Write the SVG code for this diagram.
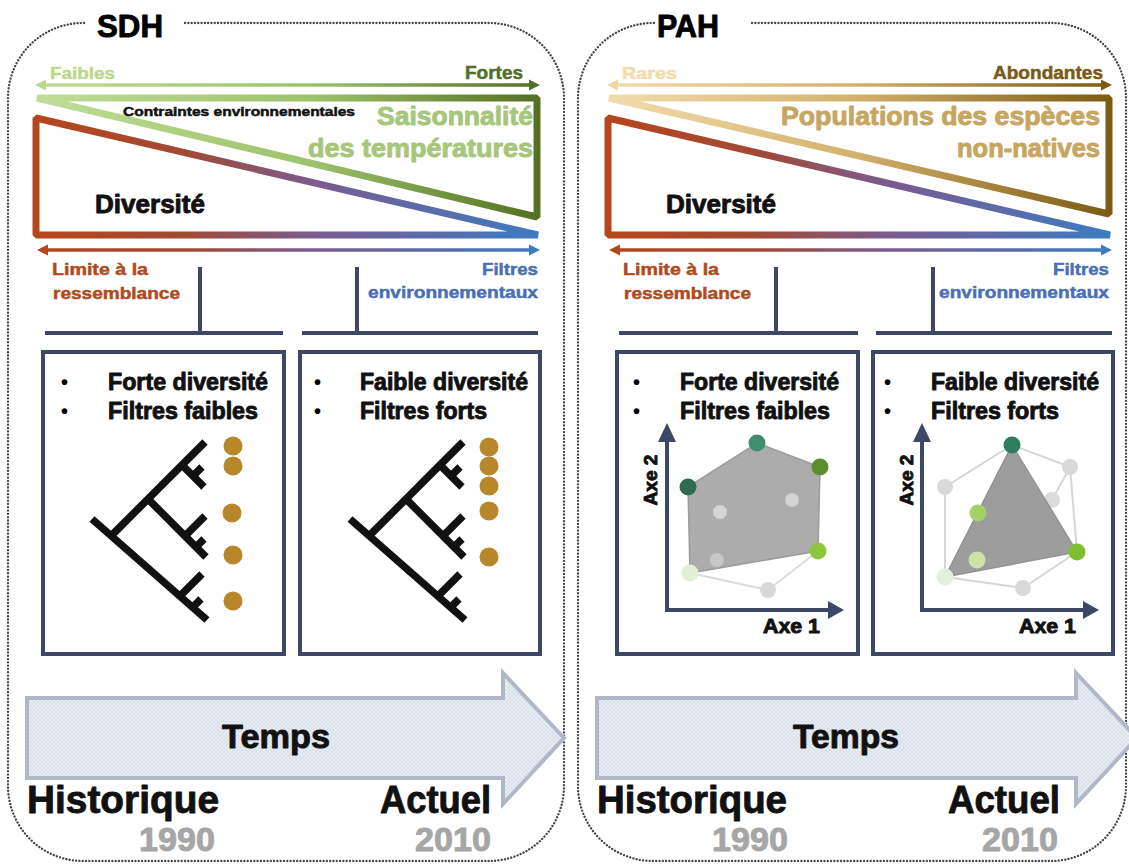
<svg xmlns="http://www.w3.org/2000/svg" width="1129" height="866" viewBox="0 0 1129 866">
<style>
.t{font-family:"Liberation Sans",Arial,sans-serif;font-weight:bold;stroke-width:0.9;stroke-linejoin:round}
.s{stroke-width:0.5}
.border{fill:none;stroke:#444;stroke-width:2.3;stroke-dasharray:0.1 3.2;stroke-linecap:round}
.box{fill:#fff;stroke:#3d4766;stroke-width:4}
.br{stroke:#3d4766;stroke-width:4;fill:none}
.tree line{stroke:#111;stroke-width:7.5}
.ax{stroke:#3d4766;stroke-width:4}
.axh{fill:#3d4766}
.dot{fill:#b8862b}
.tri{fill:none;stroke-width:7;stroke-linejoin:miter;stroke-miterlimit:1}
.time{fill:url(#hatch);stroke:#b0b8c8;stroke-width:4}
</style>
<defs>
<linearGradient id="gGreen" gradientUnits="userSpaceOnUse" x1="35" y1="0" x2="540" y2="0">
<stop offset="0" stop-color="#c2dc98"/><stop offset="0.55" stop-color="#9cc26a"/><stop offset="1" stop-color="#556f22"/>
</linearGradient>
<linearGradient id="gDivL" gradientUnits="userSpaceOnUse" x1="35" y1="0" x2="540" y2="0">
<stop offset="0" stop-color="#b5461b"/><stop offset="0.3" stop-color="#a04a35"/><stop offset="0.55" stop-color="#7b5b8f"/><stop offset="1" stop-color="#3d7bc2"/>
</linearGradient>
<linearGradient id="gGold" gradientUnits="userSpaceOnUse" x1="607" y1="0" x2="1112" y2="0">
<stop offset="0" stop-color="#f3dcae"/><stop offset="0.5" stop-color="#d2b06a"/><stop offset="1" stop-color="#7d5a12"/>
</linearGradient>
<linearGradient id="gDivR" gradientUnits="userSpaceOnUse" x1="607" y1="0" x2="1112" y2="0">
<stop offset="0" stop-color="#b5461b"/><stop offset="0.3" stop-color="#a04a35"/><stop offset="0.55" stop-color="#7b5b8f"/><stop offset="1" stop-color="#3d7bc2"/>
</linearGradient>
<pattern id="hatch" patternUnits="userSpaceOnUse" width="4" height="4">
<rect width="4" height="4" fill="#e9edf4"/>
<path d="M0 4 L4 0 M0 0 L4 4" stroke="#d2d8e4" stroke-width="0.7"/>
</pattern>
<g id="tree" class="tree">
<line x1="92" y1="519" x2="207" y2="620"/>
<line x1="110" y1="537" x2="205" y2="442"/>
<line x1="148" y1="499" x2="206" y2="557"/>
<line x1="182" y1="465" x2="204" y2="487"/>
<line x1="193" y1="476" x2="202" y2="467"/>
<line x1="185" y1="536" x2="205" y2="516"/>
<line x1="196" y1="547" x2="204" y2="539"/>
<line x1="180" y1="596" x2="202" y2="574"/>
<line x1="193" y1="607" x2="201" y2="599"/>
</g>
</defs>
<rect width="1129" height="866" fill="#fff"/>

<g id="panel-sdh">
<path class="border" d="M185 23 H489 A75 75 0 0 1 564 98 V786 A75 75 0 0 1 489 861 H83 A75 75 0 0 1 8 786 V98 A75 75 0 0 1 83 23 H86"/>
<text class="t" x="97" y="37" font-size="31" fill="#000" stroke="#000" textLength="66" lengthAdjust="spacingAndGlyphs">SDH</text>
</g>
<g id="panel-pah">
<path class="border" d="M752 23 H1051 A75 75 0 0 1 1126 98 V786 A75 75 0 0 1 1051 861 H653 A75 75 0 0 1 578 786 V98 A75 75 0 0 1 653 23 H655"/>
<text class="t" x="657" y="37" font-size="31" fill="#000" stroke="#000" textLength="62" lengthAdjust="spacingAndGlyphs">PAH</text>
</g>

<g id="sdh-constraints">
<polygon class="tri" stroke="url(#gGreen)" stroke-width="6.5" points="37,98 537,98 537,217"/>
<text class="t s" x="50" y="79" font-size="17" fill="#bcd88f" stroke="#bcd88f" textLength="65" lengthAdjust="spacingAndGlyphs">Faibles</text>
<text class="t s" x="523" y="79" font-size="18" fill="#52702a" stroke="#52702a" text-anchor="end" textLength="58" lengthAdjust="spacingAndGlyphs">Fortes</text>
<text class="t s" x="123" y="116" font-size="13" fill="#111" stroke="#111" textLength="232" lengthAdjust="spacingAndGlyphs">Contraintes environnementales</text>
<text class="t" x="533" y="125" font-size="25" fill="#a6c67b" stroke="#a6c67b" text-anchor="end" textLength="156" lengthAdjust="spacingAndGlyphs">Saisonnalité</text>
<text class="t" x="533" y="157" font-size="25" fill="#a6c67b" stroke="#a6c67b" text-anchor="end" textLength="225" lengthAdjust="spacingAndGlyphs">des températures</text>
</g>
<g id="sdh-diversity">
<polygon class="tri" stroke="url(#gDivL)" points="36,118 36,235 538,235"/>
<text class="t" x="95" y="213" font-size="25" fill="#111" stroke="#111" textLength="110" lengthAdjust="spacingAndGlyphs">Diversité</text>
<text class="t s" x="52" y="275" font-size="17" fill="#b14a1d" stroke="#b14a1d" textLength="96" lengthAdjust="spacingAndGlyphs">Limite à la</text>
<text class="t s" x="53" y="299" font-size="17" fill="#b14a1d" stroke="#b14a1d" textLength="127" lengthAdjust="spacingAndGlyphs">ressemblance</text>
<text class="t s" x="538" y="275" font-size="17" fill="#4a6fb3" stroke="#4a6fb3" text-anchor="end" textLength="56" lengthAdjust="spacingAndGlyphs">Filtres</text>
<text class="t s" x="538" y="298" font-size="17" fill="#4a6fb3" stroke="#4a6fb3" text-anchor="end" textLength="170" lengthAdjust="spacingAndGlyphs">environnementaux</text>
</g>

<g id="pah-populations">
<polygon class="tri" stroke="url(#gGold)" stroke-width="6.5" points="609,98 1109,98 1109,214"/>
<text class="t s" x="622" y="79" font-size="17" fill="#f4dbab" stroke="#f4dbab" textLength="55" lengthAdjust="spacingAndGlyphs">Rares</text>
<text class="t s" x="1103" y="79" font-size="18" fill="#7b5a17" stroke="#7b5a17" text-anchor="end" textLength="110" lengthAdjust="spacingAndGlyphs">Abondantes</text>
<text class="t" x="1100" y="125" font-size="25" fill="#c6a660" stroke="#c6a660" text-anchor="end" textLength="319" lengthAdjust="spacingAndGlyphs">Populations des espèces</text>
<text class="t" x="1100" y="157" font-size="25" fill="#c6a660" stroke="#c6a660" text-anchor="end" textLength="143" lengthAdjust="spacingAndGlyphs">non-natives</text>
</g>
<g id="pah-diversity">
<polygon class="tri" stroke="url(#gDivR)" points="608,118 608,235 1110,235"/>
<text class="t" x="666" y="213" font-size="25" fill="#111" stroke="#111" textLength="110" lengthAdjust="spacingAndGlyphs">Diversité</text>
<text class="t s" x="623" y="275" font-size="17" fill="#b14a1d" stroke="#b14a1d" textLength="96" lengthAdjust="spacingAndGlyphs">Limite à la</text>
<text class="t s" x="624" y="299" font-size="17" fill="#b14a1d" stroke="#b14a1d" textLength="127" lengthAdjust="spacingAndGlyphs">ressemblance</text>
<text class="t s" x="1109" y="275" font-size="17" fill="#4a6fb3" stroke="#4a6fb3" text-anchor="end" textLength="56" lengthAdjust="spacingAndGlyphs">Filtres</text>
<text class="t s" x="1109" y="298" font-size="17" fill="#4a6fb3" stroke="#4a6fb3" text-anchor="end" textLength="170" lengthAdjust="spacingAndGlyphs">environnementaux</text>
</g>

<g id="connectors">
<line x1="42" y1="85" x2="531" y2="85" stroke="url(#gGreen)" stroke-width="3.5"/>
<polygon points="35,85 46,79.5 46,90.5" fill="#bcd88f"/>
<polygon points="540,85 529,79.5 529,90.5" fill="#52702a"/>
<line x1="44" y1="250" x2="531" y2="250" stroke="url(#gDivL)" stroke-width="3.5"/>
<polygon points="37,250 48,244.5 48,255.5" fill="#b5461b"/>
<polygon points="540,250 529,244.5 529,255.5" fill="#3d7bc2"/>
<line x1="614" y1="85" x2="1104" y2="85" stroke="url(#gGold)" stroke-width="3.5"/>
<polygon points="607,85 618,79.5 618,90.5" fill="#f0d6a2"/>
<polygon points="1112,85 1101,79.5 1101,90.5" fill="#7d5a12"/>
<line x1="616" y1="250" x2="1104" y2="250" stroke="url(#gDivR)" stroke-width="3.5"/>
<polygon points="609,250 620,244.5 620,255.5" fill="#b5461b"/>
<polygon points="1112,250 1101,244.5 1101,255.5" fill="#3d7bc2"/>
<path class="br" d="M200 267 V333 M45 333 H283"/>
<path class="br" d="M357 267 V333 M302 333 H538"/>
<path class="br" d="M776 267 V333 M619 333 H858"/>
<path class="br" d="M933 267 V333 M876 333 H1112"/>
</g>

<g id="box-sdh-historique">
<rect class="box" x="43" y="352" width="241" height="302"/>
<text class="t" x="61" y="389" font-size="20" fill="#000">•</text>
<text class="t" x="61" y="418" font-size="20" fill="#000">•</text>
<text class="t" x="108" y="390" font-size="23" fill="#111" stroke="#111" textLength="160" lengthAdjust="spacingAndGlyphs">Forte diversité</text>
<text class="t" x="108" y="419" font-size="23" fill="#111" stroke="#111" textLength="150" lengthAdjust="spacingAndGlyphs">Filtres faibles</text>
<use href="#tree"/>
<circle class="dot" cx="233" cy="446" r="9.5"/>
<circle class="dot" cx="233" cy="466" r="9.5"/>
<circle class="dot" cx="232" cy="513" r="9.5"/>
<circle class="dot" cx="233" cy="555" r="9.5"/>
<circle class="dot" cx="233" cy="601" r="9.5"/>
</g>

<g id="box-sdh-actuel">
<rect class="box" x="300" y="352" width="240" height="302"/>
<text class="t" x="314" y="389" font-size="20" fill="#000">•</text>
<text class="t" x="314" y="418" font-size="20" fill="#000">•</text>
<text class="t" x="360" y="390" font-size="23" fill="#111" stroke="#111" textLength="168" lengthAdjust="spacingAndGlyphs">Faible diversité</text>
<text class="t" x="360" y="419" font-size="23" fill="#111" stroke="#111" textLength="127" lengthAdjust="spacingAndGlyphs">Filtres forts</text>
<use href="#tree" transform="translate(258,0)"/>
<circle class="dot" cx="489" cy="447" r="9.5"/>
<circle class="dot" cx="489" cy="466" r="9.5"/>
<circle class="dot" cx="489" cy="486" r="9.5"/>
<circle class="dot" cx="489" cy="511" r="9.5"/>
<circle class="dot" cx="489" cy="557" r="9.5"/>
</g>

<g id="box-pah-historique">
<rect class="box" x="617" y="352" width="241" height="302"/>
<text class="t" x="633" y="389" font-size="20" fill="#000">•</text>
<text class="t" x="633" y="418" font-size="20" fill="#000">•</text>
<text class="t" x="680" y="390" font-size="23" fill="#111" stroke="#111" textLength="159" lengthAdjust="spacingAndGlyphs">Forte diversité</text>
<text class="t" x="680" y="419" font-size="23" fill="#111" stroke="#111" textLength="150" lengthAdjust="spacingAndGlyphs">Filtres faibles</text>
<polyline points="690,573 768,590 818,551" fill="none" stroke="#dcdcdc" stroke-width="2"/>
<circle cx="768" cy="590" r="8" fill="#d9d9d9"/>
<polygon points="757,443 820,467 818,551 690,573 688,487" fill="#acacac" stroke="#9c9c9c" stroke-width="1.5"/>
<circle cx="720" cy="512" r="7" fill="#dedede" opacity="0.8"/>
<circle cx="792" cy="500" r="7" fill="#dedede" opacity="0.8"/>
<circle cx="717" cy="560" r="7" fill="#cfcfcf" opacity="0.8"/>
<circle cx="757" cy="443" r="8.5" fill="#3f8f6f"/>
<circle cx="820" cy="467" r="8.5" fill="#5e8c2e"/>
<circle cx="688" cy="487" r="8.5" fill="#2f6b50"/>
<circle cx="818" cy="551" r="8.5" fill="#8ec63f"/>
<circle cx="690" cy="573" r="8.5" fill="#e3eed6"/>
<line class="ax" x1="667" y1="612" x2="667" y2="438"/>
<polygon class="axh" points="667,423 658,442 676,442"/>
<line class="ax" x1="665" y1="610" x2="830" y2="610"/>
<polygon class="axh" points="844,610 828,601 828,619"/>
<text class="t" transform="translate(657,480) rotate(-90)" font-size="19" fill="#111" stroke="#111" text-anchor="middle" textLength="51" lengthAdjust="spacingAndGlyphs">Axe 2</text>
<text class="t" x="763" y="633" font-size="20" fill="#111" stroke="#111" textLength="57" lengthAdjust="spacingAndGlyphs">Axe 1</text>
</g>

<g id="box-pah-actuel">
<rect class="box" x="873" y="352" width="240" height="302"/>
<text class="t" x="884" y="389" font-size="20" fill="#000">•</text>
<text class="t" x="884" y="418" font-size="20" fill="#000">•</text>
<text class="t" x="931" y="390" font-size="23" fill="#111" stroke="#111" textLength="168" lengthAdjust="spacingAndGlyphs">Faible diversité</text>
<text class="t" x="931" y="419" font-size="23" fill="#111" stroke="#111" textLength="128" lengthAdjust="spacingAndGlyphs">Filtres forts</text>
<g fill="none" stroke="#d6d6d6" stroke-width="2">
<polyline points="945,577 945,487 1012,445 1070,467 1077,552 1023,588 945,577"/>
<polyline points="978,513 1052,500 1070,467"/>
</g>
<circle cx="945" cy="487" r="8" fill="#d9d9d9"/>
<circle cx="1070" cy="467" r="8" fill="#d9d9d9"/>
<circle cx="1052" cy="500" r="8" fill="#dcdcdc"/>
<circle cx="1023" cy="588" r="8" fill="#d9d9d9"/>
<polygon points="1012,445 1077,552 945,577" fill="#9d9d9d" stroke="#939393" stroke-width="1.5"/>
<circle cx="978" cy="513" r="8.5" fill="#a6d06a"/>
<circle cx="977" cy="560" r="8.5" fill="#cfe3a8"/>
<circle cx="945" cy="577" r="8.5" fill="#e5efd9"/>
<circle cx="1012" cy="445" r="8.5" fill="#2e7d5e"/>
<circle cx="1077" cy="552" r="8.5" fill="#7cbf2f"/>
<line class="ax" x1="922" y1="612" x2="922" y2="438"/>
<polygon class="axh" points="922,423 913,442 931,442"/>
<line class="ax" x1="920" y1="610" x2="1085" y2="610"/>
<polygon class="axh" points="1099,610 1083,601 1083,619"/>
<text class="t" transform="translate(913,480) rotate(-90)" font-size="19" fill="#111" stroke="#111" text-anchor="middle" textLength="51" lengthAdjust="spacingAndGlyphs">Axe 2</text>
<text class="t" x="1019" y="633" font-size="20" fill="#111" stroke="#111" textLength="57" lengthAdjust="spacingAndGlyphs">Axe 1</text>
</g>

<g id="timeline-sdh">
<polygon class="time" points="27,698 503,698 503,673 564,738 503,804 503,778 27,778"/>
<text class="t" x="276" y="748" font-size="33" fill="#111" stroke="#111" text-anchor="middle" textLength="108" lengthAdjust="spacingAndGlyphs">Temps</text>
<text class="t" x="27" y="813" font-size="39" fill="#111" stroke="#111" textLength="192" lengthAdjust="spacingAndGlyphs">Historique</text>
<text class="t" x="491" y="813" font-size="39" fill="#111" stroke="#111" text-anchor="end" textLength="111" lengthAdjust="spacingAndGlyphs">Actuel</text>
<text class="t" x="215" y="851" font-size="33" fill="#a6a6a6" stroke="#a6a6a6" text-anchor="end" textLength="76" lengthAdjust="spacingAndGlyphs">1990</text>
<text class="t" x="491" y="851" font-size="33" fill="#a6a6a6" stroke="#a6a6a6" text-anchor="end" textLength="76" lengthAdjust="spacingAndGlyphs">2010</text>
</g>
<g id="timeline-pah">
<polygon class="time" points="597,698 1076,698 1076,673 1137,738 1076,804 1076,778 597,778"/>
<text class="t" x="846" y="748" font-size="33" fill="#111" stroke="#111" text-anchor="middle" textLength="106" lengthAdjust="spacingAndGlyphs">Temps</text>
<text class="t" x="597" y="813" font-size="39" fill="#111" stroke="#111" textLength="190" lengthAdjust="spacingAndGlyphs">Historique</text>
<text class="t" x="1060" y="813" font-size="39" fill="#111" stroke="#111" text-anchor="end" textLength="112" lengthAdjust="spacingAndGlyphs">Actuel</text>
<text class="t" x="788" y="851" font-size="33" fill="#a6a6a6" stroke="#a6a6a6" text-anchor="end" textLength="76" lengthAdjust="spacingAndGlyphs">1990</text>
<text class="t" x="1058" y="851" font-size="33" fill="#a6a6a6" stroke="#a6a6a6" text-anchor="end" textLength="76" lengthAdjust="spacingAndGlyphs">2010</text>
</g>
</svg>
